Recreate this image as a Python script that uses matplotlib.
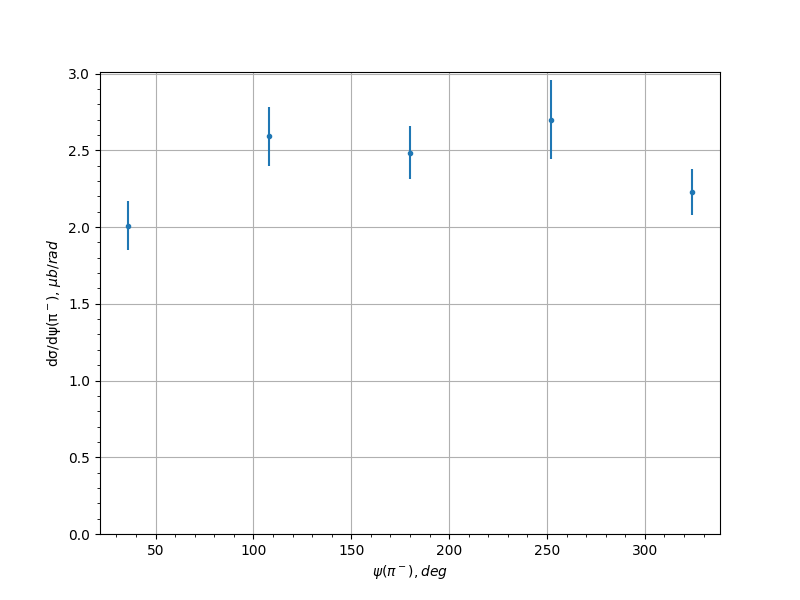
import matplotlib
matplotlib.use("Agg")
import matplotlib.pyplot as plt

psi = [36, 108, 180, 252, 324]
dsigma = [2.01, 2.59, 2.485, 2.70, 2.23]
err = [0.16, 0.19, 0.175, 0.255, 0.15]

fig, ax = plt.subplots(figsize=(8, 6), dpi=100)
ax.errorbar(psi, dsigma, yerr=err, fmt='.', color='#1f77b4')
ax.set_ylim(bottom=0)
ax.minorticks_on()
ax.grid(True, which='major')
ax.set_xlabel(r'$\psi(\pi^-), deg$')
ax.set_ylabel(r'dσ/dψ(π$^-$), $\mu b/rad$')
fig.savefig('out.png')
